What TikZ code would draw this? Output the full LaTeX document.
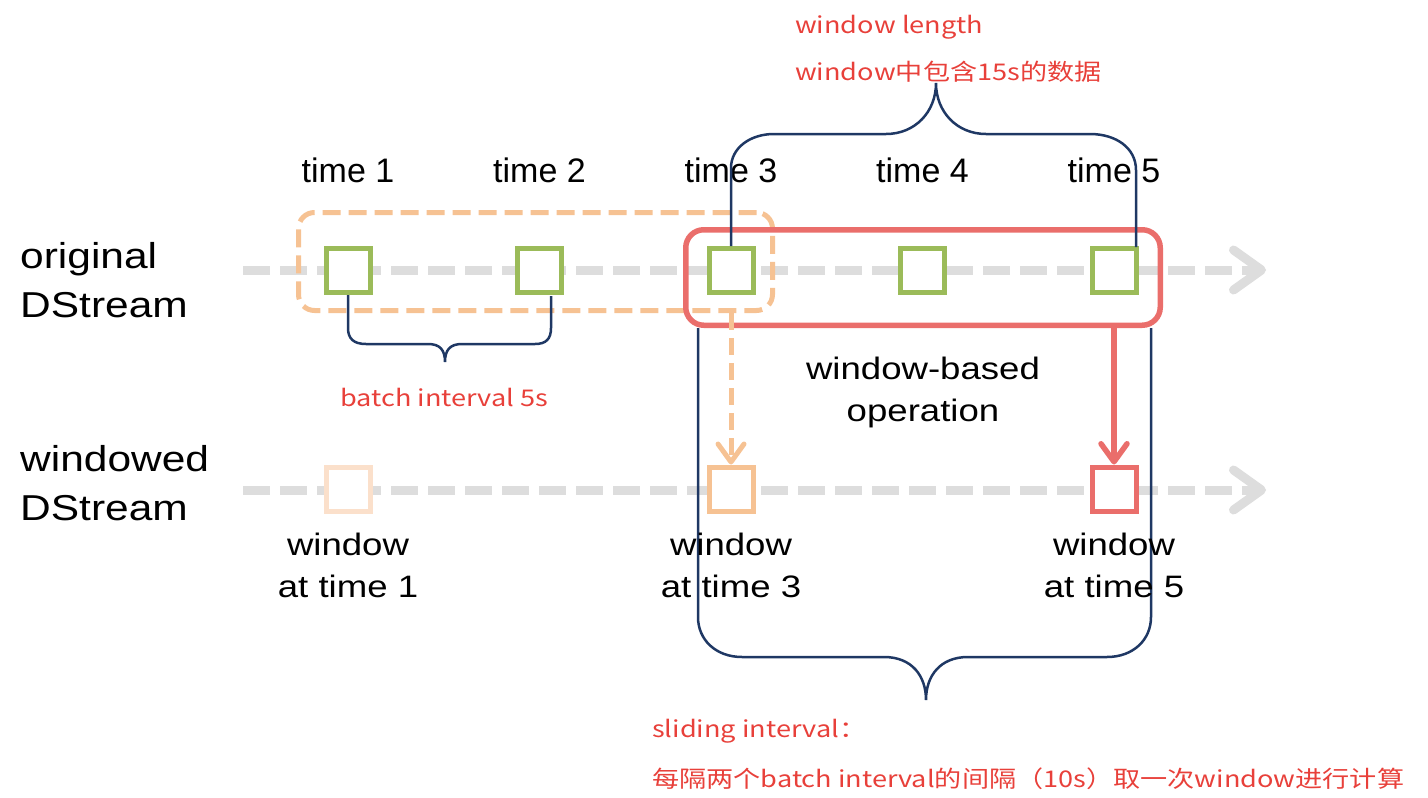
\documentclass[tikz,border=0pt]{standalone}
\usepackage{fontspec}
\setmainfont{Liberation Sans}
\newfontfamily\widesans[FakeStretch=1.18]{Liberation Sans}
\newfontfamily\cnfont[FakeStretch=1.18]{Noto Sans CJK SC}
\usetikzlibrary{arrows.meta,positioning}
\definecolor{sqgreen}{HTML}{9BBB59}
\definecolor{peach}{HTML}{F6C293}
\definecolor{palepeach}{HTML}{FBE0CB}
\definecolor{winred}{HTML}{EA6E6B}
\definecolor{bracenavy}{HTML}{1F3864}
\definecolor{axisgray}{HTML}{DDDDDD}
\definecolor{notered}{HTML}{E8403A}
\tikzset{
  batchsq/.style={draw=#1, line width=5pt, fill=white, minimum size=44pt, inner sep=0pt},
  axis/.style={line width=9pt, draw=axisgray, dash pattern=on 27pt off 10pt,
    -{Straight Barb[length=28pt,width=40pt,round]}},
  brace/.style={draw=bracenavy, line width=2.5pt},
  timelab/.style={font=\fontsize{34}{40}\selectfont, inner sep=0pt, anchor=base},
  sidelab/.style={font=\widesans\fontsize{36}{49}\selectfont, align=left, inner sep=0pt, anchor=base west},
  oplab/.style={font=\widesans\fontsize{31}{42}\selectfont, align=center, inner sep=0pt, anchor=base},
  notelab/.style={font=\cnfont\fontsize{23}{47}\selectfont, text=notered, align=left, inner sep=0pt, anchor=base west}
}
\begin{document}
\begin{tikzpicture}[x=1pt,y=-1pt]
\useasboundingbox (0,0) rectangle (1428,798);
% the two streams
\draw[axis] (243,270) coordinate (oa) -- (1266,270) coordinate (ob);
\draw[axis] (243,490) coordinate (wa) -- (1266,490) coordinate (wb);
\foreach \i in {1,...,5}{
  \node[batchsq=sqgreen] (o\i) at ({348+191.5*(\i-1)},270.5) {};
  \node[timelab] (t\i) at (o\i |- 0,182) {time \i};
}
\node[batchsq=palepeach] (w1) at (348,489) {};
\node[batchsq=peach] (w3) at (731,489) {};
\node[batchsq=winred] (w5) at (1114,489) {};
% windows
\node[draw=peach, line width=5pt, dash pattern=on 18pt off 8pt, rounded corners=16pt,
  minimum width=474pt, minimum height=98pt, inner sep=0pt] (batchwin) at (535.5,261.5) {};
\node[draw=winred, line width=5.5pt, rounded corners=18pt,
  minimum width=474.5pt, minimum height=95.5pt, inner sep=0pt] (win) at (923,277.5) {};
\draw[draw=peach, line width=5pt, dash pattern=on 17pt off 8pt,
  -{Straight Barb[length=18pt,width=26pt,round]}] (w3 |- batchwin.south) -- (w3.north);
\draw[draw=winred, line width=5.5pt,
  -{Straight Barb[length=18pt,width=26pt,round]}] (w5 |- win.south) -- (w5.north);
% braces
\draw[brace] (o1.south) -- (348,328) .. controls (348,339) and (354,344) .. (366,344) -- (428,344)
  .. controls (440,344) and (445,350) .. (445,362) .. controls (445,350) and (450,344) .. (462,344)
  -- (535,344) .. controls (546,344) and (551,339) .. (551,328) -- (551,296);
\draw[brace] (o3.north) -- (731,168) .. controls (731,148) and (750,134) .. (774,134) -- (886,134)
  .. controls (915,134) and (936,112) .. (936,83) .. controls (936,112) and (957,134) .. (986,134)
  -- (1090,134) .. controls (1116,134) and (1136,148) .. (1136,170) -- (1136,247);
\draw[brace] (698,328) -- (698,617) .. controls (698,640) and (716,657) .. (742,657) -- (884,657)
  .. controls (912,657) and (926,676) .. (926,700) .. controls (926,676) and (940,657) .. (968,657)
  -- (1107,657) .. controls (1133,657) and (1151,640) .. (1151,617) -- (1151,328);
% labels (base = last line)
\node[sidelab] (orig) at (20,317) {original\\DStream};
\node[sidelab] (wind) at (20,520) {windowed\\DStream};
\node[oplab] (op) at (923,421) {window-based\\operation};
\node[oplab] (l1) at (w1 |- 0,597) {window\\at time 1};
\node[oplab] (l3) at (w3 |- 0,597) {window\\at time 3};
\node[oplab] (l5) at (w5 |- 0,597) {window\\at time 5};
\node[notelab] (wl) at (795,80) {window length\\window中包含15s的数据};
\node[notelab] (bi) at (340,406) {batch interval 5s};
\node[notelab, font=\cnfont\fontsize{23}{50}\selectfont] (si) at (652,787)
  {sliding interval：\\每隔两个batch interval的间隔（10s）取一次window进行计算};
\end{tikzpicture}
\end{document}
